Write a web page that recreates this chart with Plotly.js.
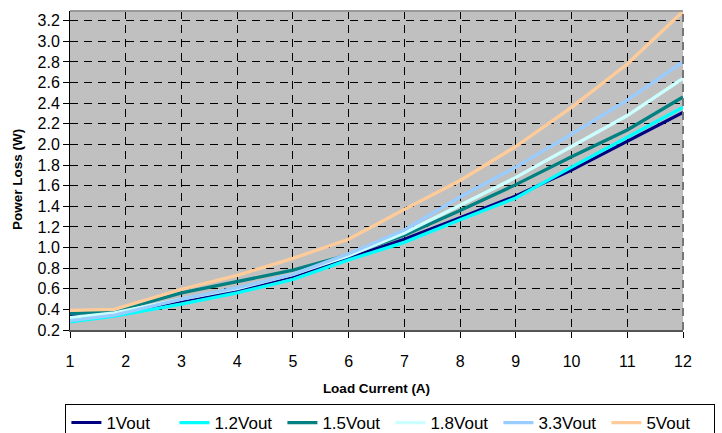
<!DOCTYPE html>
<html>
<head>
<meta charset="utf-8">
<script src="https://cdn.plot.ly/plotly-3.0.1.min.js"></script>
<style>html,body{margin:0;padding:0;background:#fff;}#chart{width:722px;height:433px;}</style>
</head>
<body>
<div id="chart"></div>
<script>
const loadCurrent = [1, 1.8, 3, 4, 5, 6, 7, 8, 9, 10, 11, 12];
const seriesNames = ['1Vout', '1.2Vout', '1.5Vout', '1.8Vout', '3.3Vout', '5Vout'];
const v1p0 = [0.33, 0.35, 0.48, 0.58, 0.72, 0.90, 1.08, 1.29, 1.50, 1.75, 2.03, 2.31];
const v1p2 = [0.28, 0.335, 0.45, 0.56, 0.69, 0.88, 1.05, 1.27, 1.48, 1.78, 2.07, 2.36];
const v1p5 = [0.36, 0.38, 0.56, 0.67, 0.78, 0.93, 1.12, 1.36, 1.61, 1.88, 2.14, 2.46];
const v1p8 = [0.32, 0.365, 0.50, 0.60, 0.74, 0.92, 1.14, 1.41, 1.68, 1.98, 2.28, 2.64];
const v3p3 = [0.29, 0.345, 0.50, 0.61, 0.74, 0.94, 1.17, 1.49, 1.78, 2.10, 2.43, 2.80];
const v5p0 = [0.39, 0.40, 0.595, 0.73, 0.895, 1.08, 1.37, 1.65, 1.98, 2.36, 2.78, 3.29];
const xTicks = [1,2,3,4,5,6,7,8,9,10,11,12];

const seriesValues = [v1p0, v1p2, v1p5, v1p8, v3p3, v5p0];
const colors = ['#000080', '#00FFFF', '#008080', '#CCFFFF', '#99CCFF', '#FFCC99'];
const widths = [3, 3.3, 3.3, 3.3, 3.3, 3.3];

const traces = seriesValues.map((vals, i) => ({
  type: 'scatter', mode: 'lines',
  x: loadCurrent, y: vals, name: seriesNames[i],
  line: {color: colors[i], width: widths[i]},
  hoverinfo: 'skip'
}));

const layout = {
  width: 722, height: 433,
  margin: {l: 70, r: 39, t: 11, b: 103, autoexpand: false},
  paper_bgcolor: '#ffffff',
  plot_bgcolor: '#C0C0C0',
  font: {family: 'Liberation Sans, Arial, sans-serif', color: '#000', size: 16},
  showlegend: true,
  legend: {
    orientation: 'h', x: -0.0075, xanchor: 'left', y: -0.232, yanchor: 'top',
    bordercolor: '#000', borderwidth: 1, bgcolor: '#fff',
    font: {size: 17}, itemwidth: 30, tracegroupgap: 0,
    entrywidth: 63, entrywidthmode: 'pixels'
  },
  xaxis: {
    range: [1, 12], tickvals: xTicks, ticktext: xTicks.map(String),
    showgrid: true, gridcolor: '#000', griddash: '8px,6px', gridwidth: 1,
    zeroline: false, showline: true, linecolor: '#555', linewidth: 2,
    ticks: 'outside', ticklen: 6, tickcolor: '#000', tickwidth: 1,
    ticklabelstandoff: 10,
    tickfont: {size: 16},
    title: {text: '<b>Load Current (A)</b>', font: {size: 13.5}, standoff: 14}
  },
  yaxis: {
    range: [0.2, 3.294], dtick: 0.2, tick0: 0.2, tickformat: '.1f',
    showgrid: true, gridcolor: '#000', griddash: '8px,6px', gridwidth: 1,
    zeroline: false, showline: true, linecolor: '#000', linewidth: 1,
    ticks: 'outside', ticklen: 6, tickcolor: '#000', tickwidth: 1,
    tickfont: {size: 16}
  },
  annotations: [
    {text: '<b>Power Loss (W)</b>', textangle: -90, xref: 'paper', yref: 'paper',
     x: -0.0865, y: 0.473, xanchor: 'center', yanchor: 'middle', showarrow: false,
     font: {size: 13.5}}
  ],
  shapes: [
    {type: 'line', xref: 'paper', yref: 'paper', x0: 0, x1: 1, y0: 1, y1: 1,
     line: {color: '#999', width: 2}},
    {type: 'line', xref: 'paper', yref: 'paper', x0: 1, x1: 1, y0: 0, y1: 1,
     line: {color: '#777', width: 2, dash: '8px,6px'}}
  ]
};

Plotly.newPlot('chart', traces, layout, {displayModeBar: false, staticPlot: true});
</script>
</body>
</html>
